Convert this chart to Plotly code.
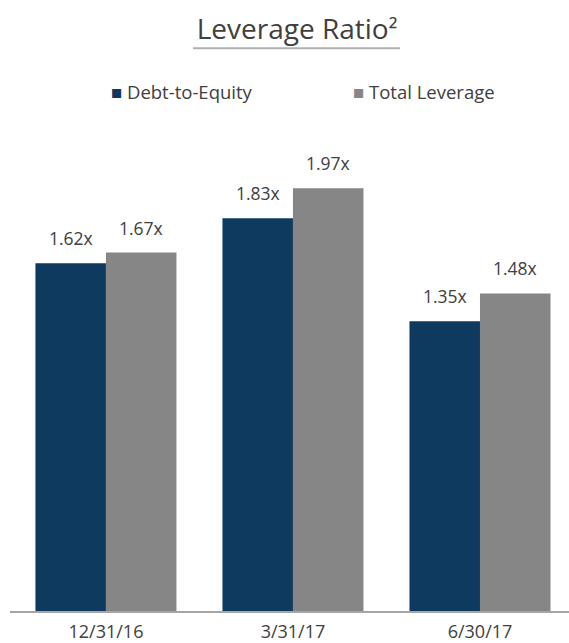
import plotly.graph_objects as go

# Leverage ratios by quarter-end
categories = ["12/31/16", "3/31/17", "6/30/17"]
debt_to_equity = [1.62, 1.83, 1.35]
total_leverage = [1.67, 1.97, 1.48]
series_names = ["Debt-to-Equity", "Total Leverage"]
series_colors = ["#0d3a5e", "#868686"]

W, H = 569, 643
PLOT_L, PLOT_R = 10, 569
PLOT_T, PLOT_B = 130, 613
TEXT = "#404040"
FONT = "Open Sans"

fig = go.Figure()
for name, vals, color in zip(series_names, [debt_to_equity, total_leverage], series_colors):
    fig.add_trace(go.Bar(
        x=categories, y=vals, name=name, marker_color=color,
        marker_line_width=0, showlegend=False,
    ))

# value labels above each bar
offsets = [-35, 35]
annotations = []
for vals, dx in zip([debt_to_equity, total_leverage], offsets):
    for c, v in zip(categories, vals):
        annotations.append(dict(
            x=c, y=v, xref="x", yref="y", text=f"{v:.2f}x",
            showarrow=False, xshift=dx, yanchor="bottom", yshift=11,
            font=dict(family=FONT, size=17.5, color=TEXT),
        ))

# legend row
def px_x(p):
    return (p - PLOT_L) / (PLOT_R - PLOT_L)

def px_y(p):
    return (PLOT_B - p) / (PLOT_B - PLOT_T)

legend_x = [109, 351]
for name, color, lx in zip(series_names, series_colors, legend_x):
    annotations.append(dict(
        x=px_x(lx), y=px_y(91), xref="paper", yref="paper",
        xanchor="left", yanchor="middle", showarrow=False,
        text=f"<span style='color:{color}'>■</span> {name}",
        font=dict(family=FONT, size=18.5, color=TEXT),
    ))

fig.update_layout(
    width=W, height=H,
    margin=dict(l=PLOT_L, r=W - PLOT_R, t=PLOT_T, b=H - PLOT_B),
    paper_bgcolor="white", plot_bgcolor="white",
    barmode="group", bargap=0.246, bargroupgap=0,
    title=dict(
        text="Leverage Ratio<span style='font-size:25px'>²</span>",
        xref="container", yref="container",
        x=297 / W, y=1 - 29 / H, xanchor="center", yanchor="middle",
        font=dict(family=FONT, size=28, color=TEXT),
    ),
    xaxis=dict(
        type="category", range=[-0.513, 2.476],
        showline=True, linecolor="#a6a6a6", linewidth=2,
        ticks="", showgrid=False, ticklabelstandoff=3,
        tickfont=dict(family=FONT, size=18, color=TEXT),
    ),
    yaxis=dict(
        range=[0, (PLOT_B - PLOT_T) / 215.5], visible=False, showgrid=False,
    ),
    annotations=annotations,
    shapes=[dict(
        type="line", xref="paper", yref="paper",
        x0=px_x(193), x1=px_x(400), y0=px_y(48), y1=px_y(48),
        line=dict(color="#b0b0b0", width=2),
    )],
)

fig.write_html("out.html")
